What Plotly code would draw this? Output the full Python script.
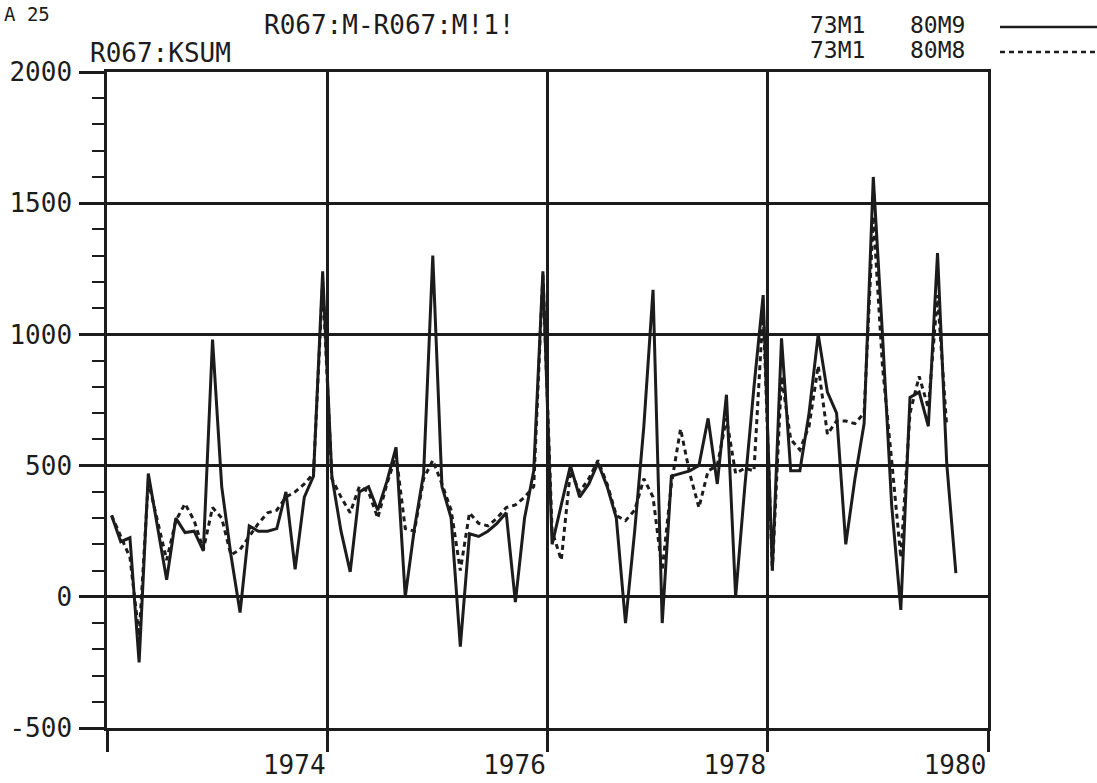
import plotly.graph_objects as go

# Monthly series, 73M1 onwards (one row per year)
kc_80m9 = [
    310, 210, 225, -250, 470, 260, 65, 300, 245, 250, 175, 980,
    420, 160, -60, 270, 250, 250, 260, 400, 105, 380, 460, 1240,
    460, 250, 95, 400, 420, 330, 440, 570, 0, 260, 470, 1300,
    420, 300, -190, 240, 230, 250, 280, 320, -20, 300, 480, 1240,
    200, 350, 500, 380, 430, 510, 420, 300, -100, 250, 650, 1170,
    -100, 460, 470, 480, 500, 680, 430, 770, 0, 420, 800, 1150,
    100, 985, 480, 480, 700, 1000, 780, 700, 200, 450, 660, 1600,
    1000, 350, -50, 760, 780, 650, 1310, 510, 90,
]
kc_80m8 = [
    310, 230, 150, -150, 440, 290, 140, 290, 355, 290, 180, 340,
    300, 160, 180, 230, 280, 320, 330, 380, 400, 430, 470, 1200,
    450, 380, 320, 420, 400, 300, 430, 540, 260, 250, 450, 520,
    430, 330, 100, 320, 280, 270, 300, 340, 350, 380, 420, 1230,
    250, 140, 480, 400, 450, 520, 430, 310, 290, 330, 450, 380,
    100, 430, 640, 470, 340, 480, 500, 680, 470, 490, 480, 1100,
    100, 840, 600, 560, 650, 880, 620, 670, 670, 660, 700, 1450,
    880, 520, 150, 700, 840, 720, 1150, 650,
]

x_ticks = [1972, 1974, 1976, 1978, 1980]
x_tick_text = ["", "1974", "1976", "1978", "1980"]
y_ticks = [-500, 0, 500, 1000, 1500, 2000]
y_tick_text = ["-500", "0", "500", "1000", "1500", "2000"]

legend_rows = [("73M1", "80M9", "solid"), ("73M1", "80M8", "5px,4px")]

INK = "#1c1c1c"
FONT = "DejaVu Sans Mono"
FS = 26

W, H = 1097, 783
L, R, T, B = 107, 988, 72, 728


def xt(i):
    # month i plotted mid-month on the year axis
    return x_ticks[0] + (i + 0.5) / 12


def px(xp):
    return (xp - L) / (R - L)


def py(yp):
    return (B - yp) / (B - T)


fig = go.Figure()
fig.add_trace(go.Scatter(
    x=[xt(i) for i in range(len(kc_80m8))], y=kc_80m8, mode="lines",
    line=dict(color=INK, width=3, dash="5px,4px"), hoverinfo="skip"))
fig.add_trace(go.Scatter(
    x=[xt(i) for i in range(len(kc_80m9))], y=kc_80m9, mode="lines",
    line=dict(color=INK, width=3), hoverinfo="skip"))

ann = []


def text(s, x_left, y_mid, size=FS):
    ann.append(dict(text=s, xref="paper", yref="paper", x=px(x_left), y=py(y_mid),
                    xanchor="left", yanchor="middle", showarrow=False,
                    font=dict(family=FONT, size=size, color=INK)))


text("A 25", 2, 14, 19)
text("R067:M-R067:M!1!", 262, 25)
text("R067:KSUM", 88, 53)

shapes = []
for k, (a, b, dash) in enumerate(legend_rows):
    ym = 25 + 25 * k
    text(a, 808, ym, 23)
    text(b, 908, ym, 23)
    shapes.append(dict(type="line", xref="paper", yref="paper",
                       x0=px(1000), x1=px(1097), y0=py(ym + 2), y1=py(ym + 2),
                       line=dict(color=INK, width=2.5, dash=dash)))

axis_common = dict(
    automargin=False,
    showgrid=True, gridcolor=INK, gridwidth=2.5,
    showline=True, linecolor=INK, linewidth=2.5, mirror=True,
    zeroline=False, ticks="outside", tickcolor=INK, tickwidth=2.5,
    tickfont=dict(family=FONT, size=FS, color=INK),
)

fig.update_layout(
    width=W, height=H,
    margin=dict(l=L, r=W - R, t=T, b=H - B, pad=0, autoexpand=False),
    paper_bgcolor="white", plot_bgcolor="white",
    showlegend=False,
    annotations=ann, shapes=shapes,
    xaxis=dict(range=[1972, 1980], tickmode="array", tickvals=x_ticks,
               ticktext=x_tick_text, ticklen=21, ticklabelshift=-33,
               ticklabelstandoff=-9, **axis_common),
    yaxis=dict(range=[-500, 2000], tickmode="array", tickvals=y_ticks,
               ticktext=y_tick_text, ticklen=25, ticklabelstandoff=2,
               minor=dict(dtick=100, ticks="outside", ticklen=12,
                          tickwidth=2, tickcolor=INK, showgrid=False),
               **axis_common),
)

fig.write_html("out.html")
